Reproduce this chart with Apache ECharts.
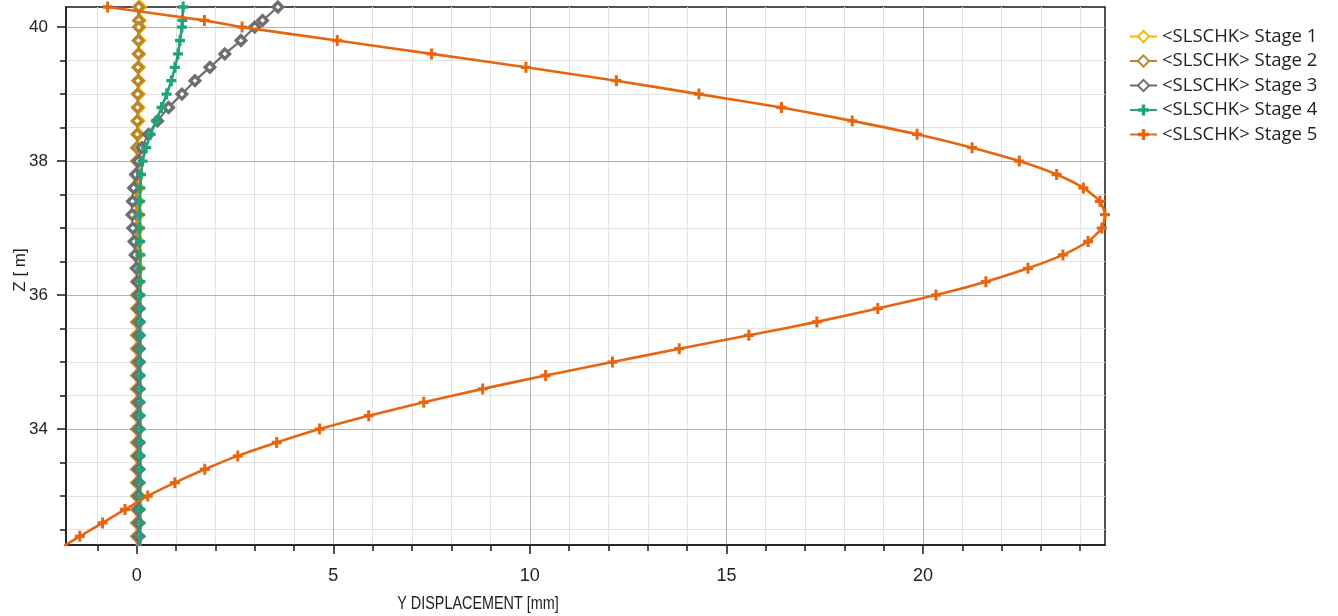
<!DOCTYPE html>
<html>
<head>
<meta charset="utf-8">
<script src="https://cdn.jsdelivr.net/npm/echarts@6/dist/echarts.min.js"></script>
<style>
  html, body { margin: 0; padding: 0; background: #ffffff; }
  #chart { width: 1338px; height: 616px; }
</style>
</head>
<body>
<div id="chart"></div>
<script>
// Node elevations along the wall [m]
const elevations = [
  40.3, 40.1, 40.0,
  39.8, 39.6, 39.4, 39.2, 39.0, 38.8, 38.6, 38.4, 38.2, 38.0,
  37.8, 37.6, 37.4, 37.2, 37.0, 36.8, 36.6, 36.4, 36.2, 36.0,
  35.8, 35.6, 35.4, 35.2, 35.0, 34.8, 34.6, 34.4, 34.2, 34.0,
  33.8, 33.6, 33.4, 33.2, 33.0, 32.8, 32.6, 32.4, 32.2
];

// Y displacement per construction stage [mm], one value per elevation
const stage1 = [
  0.09, 0.08, 0.08, 0.07, 0.07, 0.06, 0.06, 0.06, 0.05, 0.05, 0.05, 0.05, 0.05,
  0.05, 0.05, 0.05, 0.05, 0.05, 0.05, 0.05, 0.05, 0.05, 0.05,
  0.05, 0.05, 0.05, 0.05, 0.05, 0.05, 0.05, 0.05, 0.05, 0.05,
  0.05, 0.05, 0.05, 0.05, 0.05, 0.05, 0.05, 0.05, 0.05
];
const stage2 = [
  0.05, 0.05, 0.05, 0.04, 0.04, 0.03, 0.03, 0.02, 0.02, 0.01, 0.01, 0.0, 0.0,
  0.0, -0.01, -0.01, -0.01, -0.01, -0.01, 0.0, 0.0, 0.0, 0.0,
  0.0, 0.0, 0.0, 0.0, 0.0, 0.0, 0.0, 0.0, 0.0, 0.0,
  0.0, 0.0, 0.0, 0.0, 0.0, 0.0, 0.0, 0.0, 0.0
];
const stage3 = [
  3.59, 3.2, 3.0, 2.65, 2.24, 1.86, 1.48, 1.15, 0.81, 0.53, 0.3, 0.13, 0.04,
  -0.03, -0.08, -0.11, -0.12, -0.1, -0.07, -0.04, -0.01, 0.02, 0.04,
  0.05, 0.06, 0.06, 0.06, 0.06, 0.05, 0.05, 0.05, 0.05, 0.05,
  0.05, 0.05, 0.05, 0.05, 0.05, 0.05, 0.05, 0.05, 0.05
];
const stage4 = [
  1.18, 1.16, 1.15, 1.1, 1.05, 0.97, 0.88, 0.76, 0.63, 0.49, 0.35, 0.24, 0.15,
  0.11, 0.09, 0.08, 0.08, 0.08, 0.08, 0.09, 0.09, 0.09, 0.09,
  0.09, 0.09, 0.09, 0.09, 0.09, 0.09, 0.09, 0.09, 0.09, 0.09,
  0.09, 0.09, 0.09, 0.09, 0.09, 0.09, 0.09, 0.09, 0.09
];
const stage5 = [
  -0.74, 1.72, 2.68, 5.1, 7.5, 9.9, 12.2, 14.3, 16.4, 18.2, 19.85, 21.25, 22.45,
  23.4, 24.08, 24.5, 24.63, 24.55, 24.2, 23.56, 22.67, 21.6, 20.33,
  18.85, 17.3, 15.57, 13.8, 12.1, 10.4, 8.8, 7.3, 5.9, 4.65,
  3.56, 2.57, 1.73, 0.97, 0.28, -0.3, -0.87, -1.45, -2.0
];

const stageNames = [
  '<SLSCHK> Stage 1', '<SLSCHK> Stage 2', '<SLSCHK> Stage 3',
  '<SLSCHK> Stage 4', '<SLSCHK> Stage 5'
];

// Axis ranges and tick values
const xRange = [-1.8, 24.63];
const zRange = [32.27, 40.3];
const xMajorTicks = [0, 5, 10, 15, 20];
const xMinorTicks = [-1, 1, 2, 3, 4, 6, 7, 8, 9, 11, 12, 13, 14, 16, 17, 18, 19, 21, 22, 23, 24];
const zMajorTicks = [34, 36, 38, 40];
const zMinorTicks = [32.5, 33, 33.5, 34.5, 35, 35.5, 36.5, 37, 37.5, 38.5, 39, 39.5];

const colors = ['#F2B705', '#B9862C', '#6E6E6E', '#1FA37B', '#E8650F'];
// chunky plus sign used as the marker of stages 4 and 5
const plusSymbol = 'path://M3.5,0H6.5V3.5H10V6.5H6.5V10H3.5V6.5H0V3.5H3.5Z';

const stageData = [stage1, stage2, stage3, stage4, stage5];

function pairs(values) {
  return values.map((v, i) => [v, elevations[i]]);
}

const series = stageData.map((values, i) => {
  const isPlus = i >= 3;
  return {
    name: stageNames[i],
    type: 'line',
    data: pairs(values),
    xAxisIndex: 0,
    yAxisIndex: 0,
    smooth: 0.2,
    showSymbol: true,
    symbol: isPlus ? plusSymbol : 'diamond',
    symbolSize: isPlus ? [10, 11] : 9.5,
    lineStyle: { color: colors[i], width: i >= 3 ? 2.6 : 2.2 },
    itemStyle: isPlus
      ? { color: colors[i] }
      : { color: '#ffffff', borderColor: colors[i], borderWidth: 3.4 },
    emphasis: { disabled: true },
    z: 2 + i
  };
});

const axisFont = 'Liberation Sans Narrow, Liberation Sans, Arial, sans-serif';

const chart = echarts.init(document.getElementById('chart'), null, { renderer: 'canvas' });
chart.setOption({
  animation: false,
  backgroundColor: '#ffffff',
  color: colors,
  grid: {
    left: 66, right: 233, top: 7, bottom: 71,
    show: true, borderColor: '#1a1a1a', borderWidth: 1.5, backgroundColor: 'transparent',
    containLabel: false
  },
  legend: {
    orient: 'vertical',
    left: 1124, top: 22,
    itemWidth: 27, itemHeight: 14, itemGap: 5.5,
    textStyle: { fontFamily: 'Open Sans, sans-serif', fontSize: 18.5, color: '#1f1f1f', lineHeight: 14 },
    data: stageNames,
    selectedMode: false
  },
  xAxis: [
    {
      type: 'value', min: xRange[0], max: xRange[1], position: 'bottom', z: 1,
      axisLine: { show: true, onZero: false, lineStyle: { color: '#1a1a1a', width: 1.5 } },
      axisTick: { show: true, customValues: xMajorTicks, length: 9, lineStyle: { color: '#1a1a1a', width: 1.5 } },
      axisLabel: { customValues: xMajorTicks, margin: 22, color: '#222', fontFamily: axisFont, fontSize: 18 },
      splitLine: { show: true, lineStyle: { color: '#b0b0b0', width: 1 } }
    },
    {
      type: 'value', min: xRange[0], max: xRange[1], position: 'bottom', z: 0,
      axisLine: { show: false, onZero: false },
      axisTick: { show: true, customValues: xMinorTicks, length: 6, lineStyle: { color: '#1a1a1a', width: 1.5 } },
      axisLabel: { show: false },
      splitLine: { show: true, lineStyle: { color: '#e3e3e3', width: 1 } }
    }
  ],
  yAxis: [
    {
      type: 'value', min: zRange[0], max: zRange[1], position: 'left', z: 1,
      axisLine: { show: true, onZero: false, lineStyle: { color: '#1a1a1a', width: 1.5 } },
      axisTick: { show: true, customValues: zMajorTicks, length: 9, lineStyle: { color: '#1a1a1a', width: 1.5 } },
      axisLabel: { customValues: zMajorTicks, margin: 18, color: '#222', fontFamily: 'Liberation Sans, Arial, sans-serif', fontSize: 17 },
      splitLine: { show: true, lineStyle: { color: '#b0b0b0', width: 1 } }
    },
    {
      type: 'value', min: zRange[0], max: zRange[1], position: 'left', z: 0,
      axisLine: { show: false, onZero: false },
      axisTick: { show: true, customValues: zMinorTicks, length: 6, lineStyle: { color: '#1a1a1a', width: 1.5 } },
      axisLabel: { show: false },
      splitLine: { show: true, lineStyle: { color: '#e3e3e3', width: 1 } }
    }
  ],
  graphic: [
    {
      type: 'text', x: 478, y: 604, scaleX: 0.8, silent: true,
      style: {
        text: 'Y DISPLACEMENT [mm]', fill: '#222',
        font: '18px ' + axisFont, textAlign: 'center', textVerticalAlign: 'middle'
      }
    },
    {
      type: 'text', x: 20, y: 270, rotation: Math.PI / 2, silent: true,
      style: {
        text: 'Z [ m]', fill: '#222',
        font: '17px Liberation Sans, Arial, sans-serif', textAlign: 'center', textVerticalAlign: 'middle'
      }
    }
  ],
  series: series
});
</script>
</body>
</html>
